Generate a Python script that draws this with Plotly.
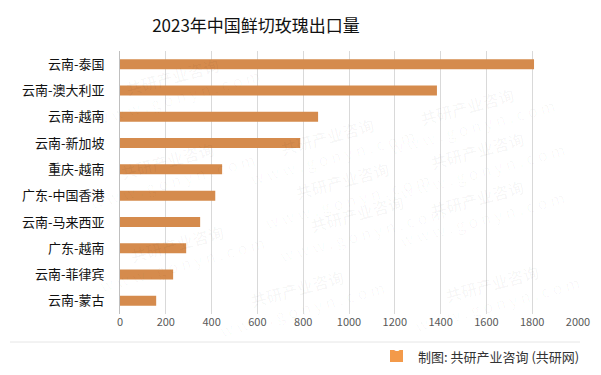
import plotly.graph_objects as go

categories = ["云南-泰国", "云南-澳大利亚", "云南-越南", "云南-新加坡", "重庆-越南",
              "广东-中国香港", "云南-马来西亚", "广东-越南", "云南-菲律宾", "云南-蒙古"]
values = [1808, 1384, 865, 787, 446, 416, 350, 289, 232, 158]
x_ticks = [0, 200, 400, 600, 800, 1000, 1200, 1400, 1600, 1800, 2000]

FONT = "Noto Sans CJK SC"
W, H = 601, 375
L, R, T, B = 120, 23, 51, 61

px = lambda x: (x - L) / (W - L - R)
py = lambda y: ((H - B) - y) / (H - T - B)

fig = go.Figure()
fig.add_trace(go.Bar(
    y=categories, x=values, orientation="h",
    marker=dict(color="#D58B4D", line=dict(width=0)),
    width=0.38, hoverinfo="x+y",
))

fig.update_layout(
    width=W, height=H,
    margin=dict(l=L, r=R, t=T, b=B, autoexpand=False),
    paper_bgcolor="white", plot_bgcolor="white",
    showlegend=False,
    font=dict(family=FONT),
    title=dict(text="2023年中国鲜切玫瑰出口量", x=256 / W, xanchor="center",
               y=1 - 26 / H, yanchor="middle",
               font=dict(family=FONT, size=17, color="#111111")),
    xaxis=dict(range=[0, 2000], tickvals=x_ticks, ticktext=[str(v) for v in x_ticks],
               showgrid=True, gridcolor="#D9D9D9", gridwidth=1,
               zeroline=False, showline=False, ticks="", automargin=False,
               tickfont=dict(family=FONT, size=11, color="#595959")),
    yaxis=dict(categoryorder="array", categoryarray=categories[::-1],
               autorange=False, range=[-0.5, len(categories) - 0.5],
               showgrid=False, zeroline=False, showline=True, automargin=False,
               linecolor="#BFBFBF", linewidth=1, ticks="",
               ticklabelstandoff=12,
               tickfont=dict(family=FONT, size=13, color="#111111")),
)

# separator line above the footer
fig.add_shape(type="line", xref="paper", yref="paper",
              x0=px(10), x1=px(580), y0=py(342), y1=py(342),
              line=dict(color="#E6E6E6", width=1))

# footer logo
fig.add_shape(type="rect", xref="paper", yref="paper",
              x0=px(390), x1=px(403), y0=py(362), y1=py(350),
              fillcolor="#F39A4A", line=dict(width=0))
fig.add_annotation(xref="paper", yref="paper", x=px(396.5), y=py(356),
                   text="<b>G</b>", showarrow=False,
                   font=dict(family=FONT, size=10, color="white"))
fig.add_annotation(xref="paper", yref="paper", x=px(581), y=py(356),
                   xanchor="right", yanchor="middle",
                   text="制图: 共研产业咨询 (共研网)", showarrow=False,
                   font=dict(family=FONT, size=13, color="#333333"))

# faint watermarks
wm = [(85, 40), (330, 100), (560, 70), (80, 170), (345, 190), (570, 160),
      (90, 300), (360, 270), (570, 255), (300, 345), (585, 340)]
for (wx, wy) in wm:
    fig.add_annotation(xref="paper", yref="paper", x=px(wx), y=py(wy),
                       text="<b>共研产业咨询</b><br>w w w . g o n y n . c o m",
                       showarrow=False, textangle=-15,
                       font=dict(family=FONT, size=16, color="rgba(0,0,0,0.03)"))

fig.write_html("out.html", config={"displayModeBar": False},
               post_script="document.body.style.margin='0';document.body.style.overflow='hidden';")
